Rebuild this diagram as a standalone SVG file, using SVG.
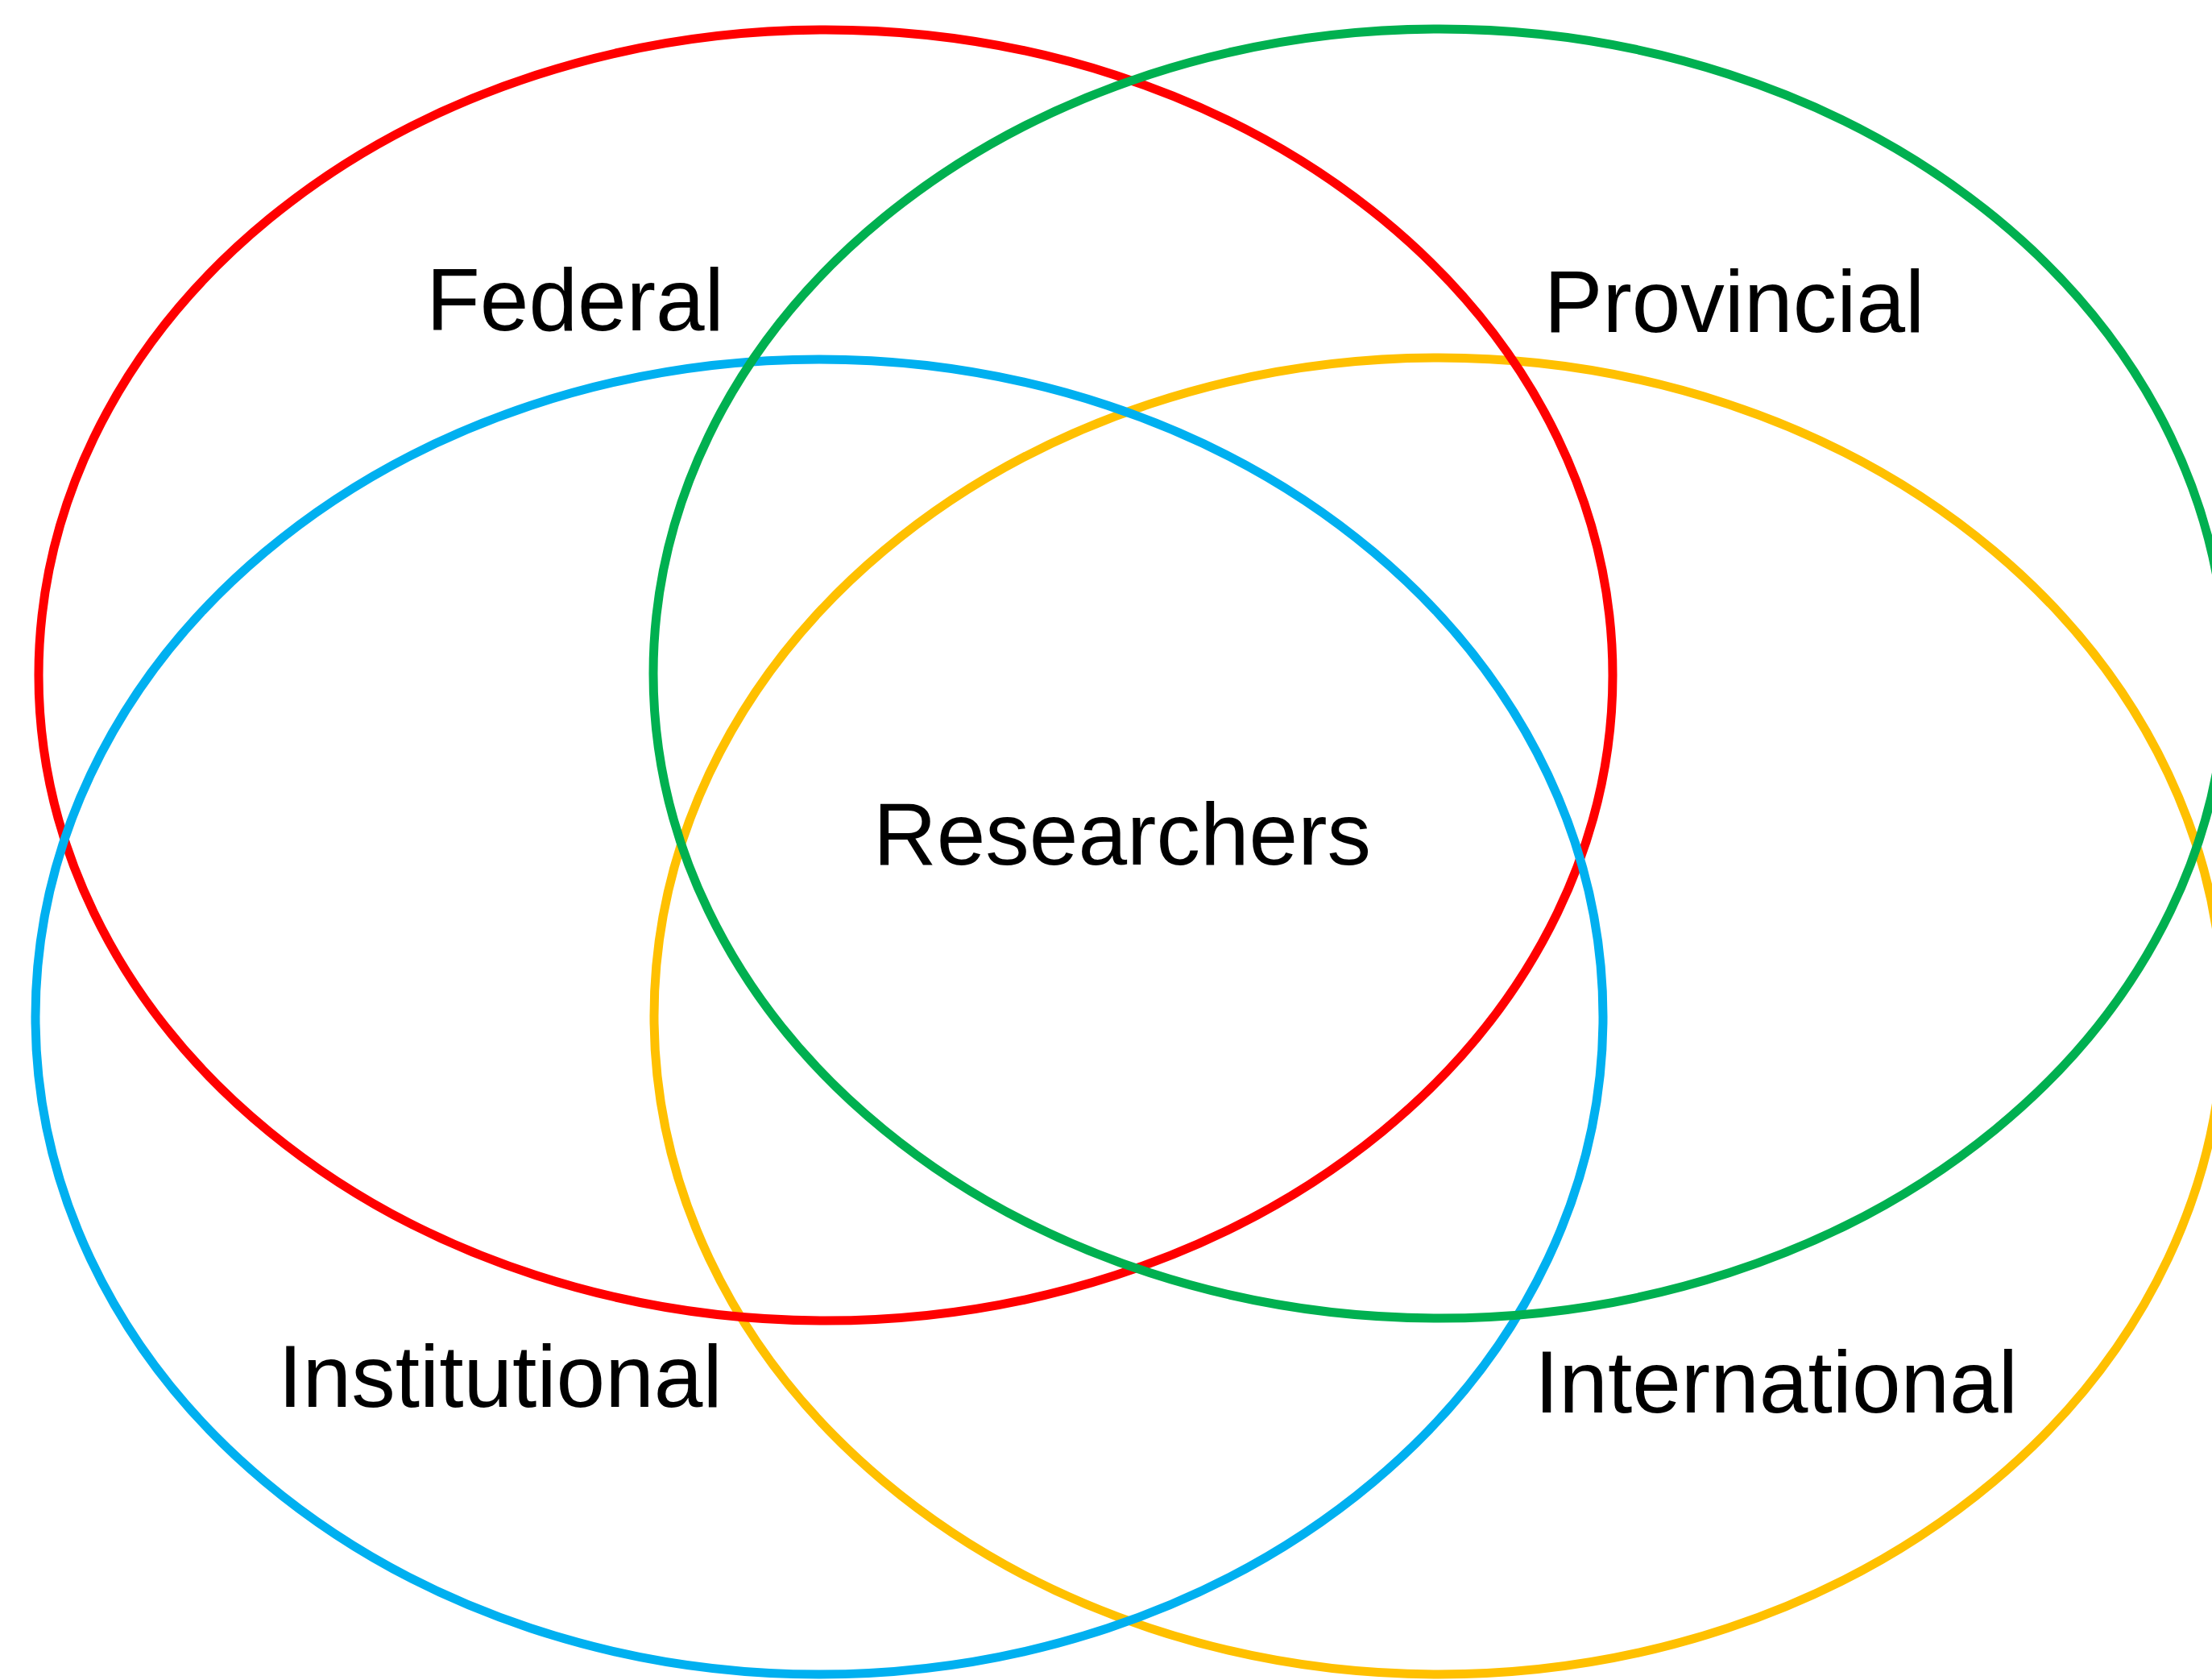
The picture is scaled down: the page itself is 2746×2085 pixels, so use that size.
<svg xmlns="http://www.w3.org/2000/svg" width="2746" height="2085" viewBox="0 0 2746 2085">
<style>
.ring{fill:none;stroke-width:11}
.lbl{font-family:"Liberation Sans",Arial,sans-serif;font-size:109px;fill:#000;text-anchor:middle}
</style>
<rect x="0" y="0" width="2746" height="2085" fill="#fff"/>
<g id="international">
<ellipse class="ring" cx="1786" cy="1261" rx="974" ry="817" stroke="#FFC000"/>
<text class="lbl" x="2205" y="1753">International</text>
</g>
<g id="federal">
<ellipse class="ring" cx="1025" cy="838" rx="977" ry="801" stroke="#FF0000"/>
<text class="lbl" x="714" y="410">Federal</text>
</g>
<g id="institutional">
<ellipse class="ring" cx="1017" cy="1262" rx="973" ry="816" stroke="#00B0F0"/>
<text class="lbl" x="621" y="1746">Institutional</text>
</g>
<g id="provincial">
<ellipse class="ring" cx="1787" cy="836" rx="976" ry="800" stroke="#00B050"/>
<text class="lbl" x="2153" y="412">Provincial</text>
</g>
<g id="researchers">
<text class="lbl" x="1393" y="1073">Researchers</text>
</g>
</svg>
